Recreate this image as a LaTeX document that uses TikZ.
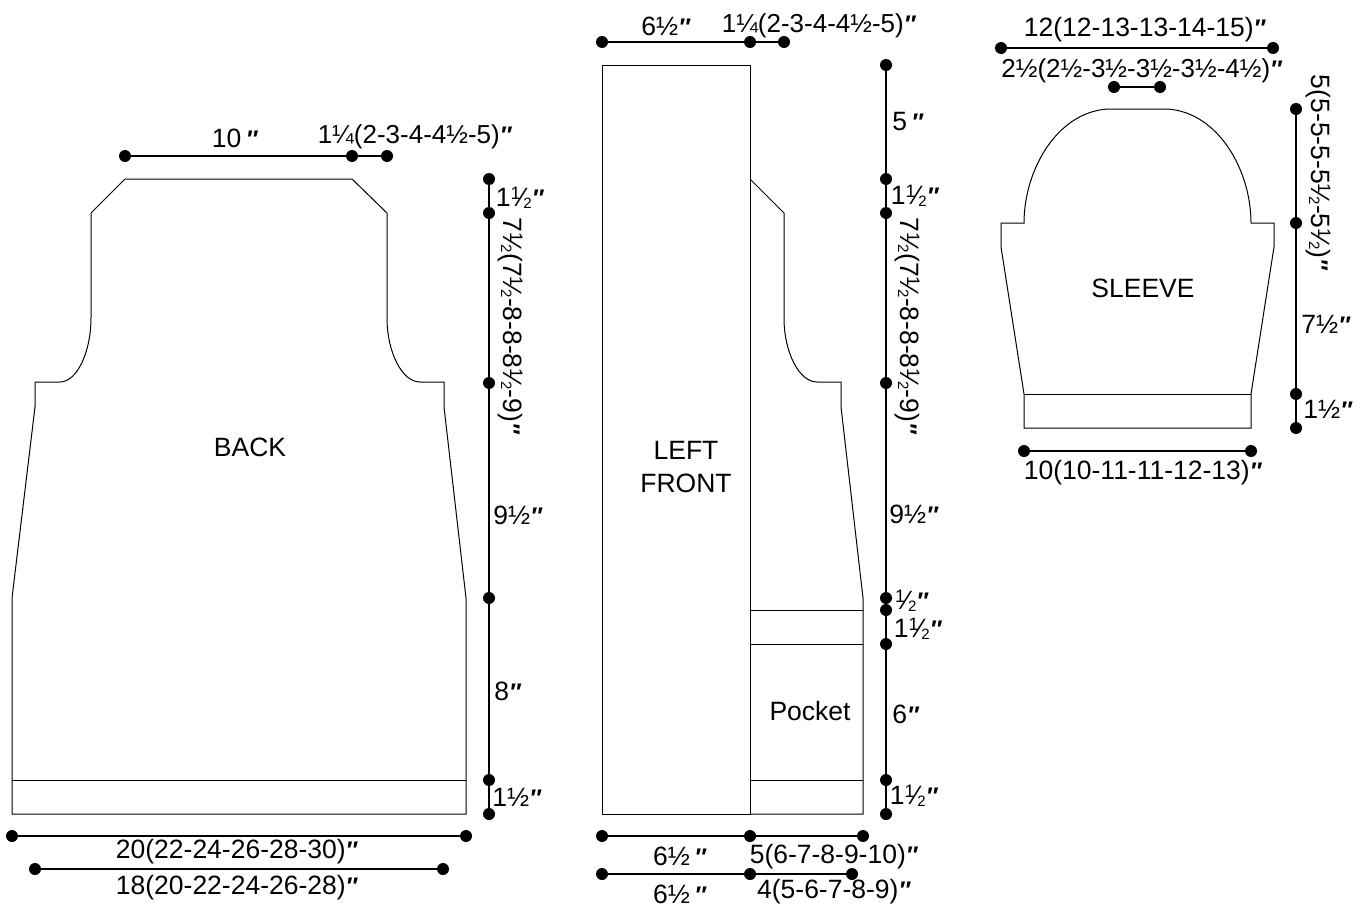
\documentclass[tikz,border=0pt]{standalone}
\usepackage{fontspec}
\setmainfont{Liberation Sans}
\usetikzlibrary{positioning}

\begin{document}
\begin{tikzpicture}[
        x=1pt, y=-1pt,
        every node/.style={font=\fontsize{26.5}{33}\selectfont, inner sep=0pt},
        ]
        \tikzstyle{piece} = [draw, line width=1pt, line join=miter];
        \tikzstyle{dimdot} = [circle, fill=black, minimum size=12pt];
        \tikzstyle{dimline} = [draw, line width=1.3pt];
        \tikzstyle{small} = [font=\fontsize{26}{30}\selectfont];
        \newcommand{\inch}{{\fontsize{24}{24}\selectfont\textit{\textbf{″}}}}
        \newcommand{\hlf}{{\fontsize{18}{18}\selectfont\raisebox{7pt}{1}}\kern-0.8pt ⁄\kern-0.8pt{\fontsize{15}{15}\selectfont\raisebox{-2pt}{2}}}
        \useasboundingbox (0,0) rectangle (1365,910);

        % back
        \draw[piece] (125,179) -- (352,179) -- (387,213) -- (387,318)
            .. controls (387,352) and (402,382) .. (420,382) -- (444,382) -- (444,407)
            -- (466,598) -- (466,814) -- (12,814) -- (12,598) -- (35,407) -- (35,382) -- (60,382)
            .. controls (77,382) and (91,352) .. (91,318) -- (91,213) -- cycle;
        \draw[piece] (12,780) -- (466,780);
        \node (backname) at (250,447) {BACK};

        \node[dimdot] (backtopa) at (125,156) {};
        \node[dimdot] (backtopb) at (352,156) {};
        \node[dimdot] (backtopc) at (387,156) {};
        \draw[dimline] (backtopa) -- (backtopb) -- (backtopc);
        \node (backneck) at (235,138) {10\,\inch};
        \node[small] (backshoulder) at (415,137) {1¼(2-3-4-4½-5)\inch};

        \node[dimdot] (backva) at (489,179) {};
        \node[dimdot] (backvb) at (489,213) {};
        \node[dimdot] (backvc) at (489,383) {};
        \node[dimdot] (backvd) at (489,598) {};
        \node[dimdot] (backve) at (489,780) {};
        \node[dimdot] (backvf) at (489,814) {};
        \draw[dimline] (backva) -- (backvb) -- (backvc) -- (backvd) -- (backve) -- (backvf);
        \node (backla) at (520,198) {1\hlf\inch};
        \node[rotate=-90] (backlb) at (510,326) {7\hlf(7\hlf-8-8-8\hlf-9)\inch};
        \node (backlc) at (518,515) {9½\inch};
        \node (backld) at (508,691) {8\inch};
        \node (backle) at (517,797) {1½\inch};

        \node[dimdot] (backbota) at (12,836) {};
        \node[dimdot] (backbotb) at (466,836) {};
        \draw[dimline] (backbota) -- (backbotb);
        \node (backbust) at (237,852) {20(22-24-26-28-30)\inch};
        \node[dimdot] (backbotc) at (35,869) {};
        \node[dimdot] (backbotd) at (443,869) {};
        \draw[dimline] (backbotc) -- (backbotd);
        \node (backhem) at (237,888) {18(20-22-24-26-28)\inch};

        % left front
        \draw[piece] (602,65) rectangle (750,814);
        \draw[piece] (750,179) -- (784,213) -- (784,318)
            .. controls (784,352) and (799,382) .. (817,382) -- (841,382) -- (841,407)
            -- (863,598) -- (863,814) -- (750,814);
        \draw[piece] (750,610) -- (863,610);
        \draw[piece] (750,644) -- (863,644);
        \draw[piece] (750,780) -- (863,780);
        \node[align=center] (frontname) at (686,467) {LEFT\\FRONT};
        \node (pocketname) at (810,711) {Pocket};

        \node[dimdot] (fronttopa) at (602,42) {};
        \node[dimdot] (fronttopb) at (750,42) {};
        \node[dimdot] (fronttopc) at (784,42) {};
        \draw[dimline] (fronttopa) -- (fronttopb) -- (fronttopc);
        \node (frontneck) at (666,26) {6½\inch};
        \node[small] (frontshoulder) at (819,26) {1¼(2-3-4-4½-5)\inch};

        \node[dimdot] (frontva) at (886,65) {};
        \node[dimdot] (frontvb) at (886,179) {};
        \node[dimdot] (frontvc) at (886,213) {};
        \node[dimdot] (frontvd) at (886,383) {};
        \node[dimdot] (frontve) at (886,598) {};
        \node[dimdot] (frontvf) at (886,610) {};
        \node[dimdot] (frontvg) at (886,644) {};
        \node[dimdot] (frontvh) at (886,780) {};
        \node[dimdot] (frontvi) at (886,814) {};
        \draw[dimline] (frontva) -- (frontvb) -- (frontvc) -- (frontvd) -- (frontve) -- (frontvf) -- (frontvg) -- (frontvh) -- (frontvi);
        \node (frontla) at (908,122) {5\,\inch};
        \node (frontlb) at (915,196) {1\hlf\inch};
        \node[rotate=-90] (frontlc) at (907,326) {7\hlf(7\hlf-8-8-8\hlf-9)\inch};
        \node (frontld) at (914,514) {9½\inch};
        \node (frontle) at (912,601) {\hlf\inch};
        \node (frontlf) at (918,629) {1\hlf\inch};
        \node (frontlg) at (906,714) {6\inch};
        \node (frontlh) at (914,796) {1\hlf\inch};

        \node[dimdot] (frontbota) at (602,836) {};
        \node[dimdot] (frontbotb) at (750,836) {};
        \node[dimdot] (frontbotc) at (863,836) {};
        \draw[dimline] (frontbota) -- (frontbotb) -- (frontbotc);
        \node (frontbusta) at (680,856) {6½\,\inch};
        \node (frontbustb) at (834,857) {5(6-7-8-9-10)\inch};
        \node[dimdot] (frontbotd) at (602,874) {};
        \node[dimdot] (frontbote) at (750,874) {};
        \node[dimdot] (frontbotf) at (852,874) {};
        \draw[dimline] (frontbotd) -- (frontbote) -- (frontbotf);
        \node (frontwaista) at (680,894) {6½\,\inch};
        \node (frontwaistb) at (834,892) {4(5-6-7-8-9)\inch};

        % sleeve
        \draw[piece] (1108,109) -- (1167,109)
            .. controls (1218,112) and (1251,170) .. (1251,223) -- (1274,223) -- (1274,247)
            -- (1251,394) -- (1251,428) -- (1024,428) -- (1024,394) -- (1001,247) -- (1001,223) -- (1024,223)
            .. controls (1024,170) and (1057,112) .. (1108,109);
        \draw[piece] (1024,394) -- (1251,394);
        \node (sleevename) at (1143,288) {SLEEVE};

        \node[dimdot] (sleevetopa) at (1001,48) {};
        \node[dimdot] (sleevetopb) at (1273,48) {};
        \draw[dimline] (sleevetopa) -- (sleevetopb);
        \node (sleevewidth) at (1145,30) {12(12-13-13-14-15)\inch};
        \node[dimdot] (sleevecapa) at (1114,87) {};
        \node[dimdot] (sleevecapb) at (1160,87) {};
        \draw[dimline] (sleevecapa) -- (sleevecapb);
        \node[small] (sleevecap) at (1142,71) {2½(2½-3½-3½-3½-4½)\inch};

        \node[dimdot] (sleeveva) at (1296,109) {};
        \node[dimdot] (sleevevb) at (1296,223) {};
        \node[dimdot] (sleevevc) at (1296,394) {};
        \node[dimdot] (sleevevd) at (1296,428) {};
        \draw[dimline] (sleeveva) -- (sleevevb) -- (sleevevc) -- (sleevevd);
        \node[rotate=-90] (sleevela) at (1318,173) {5(5-5-5-5\hlf-5\hlf)\inch};
        \node (sleevelb) at (1326,324) {7½\inch};
        \node (sleevelc) at (1328,409) {1½\inch};

        \node[dimdot] (sleevebota) at (1024,451) {};
        \node[dimdot] (sleevebotb) at (1251,451) {};
        \draw[dimline] (sleevebota) -- (sleevebotb);
        \node (sleevecuff) at (1143,473) {10(10-11-11-12-13)\inch};
    \end{tikzpicture}
\end{document}
